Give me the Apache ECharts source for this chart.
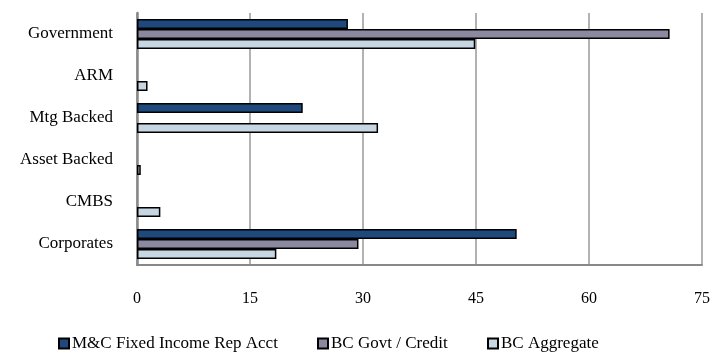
<!DOCTYPE html>
<html>
<head>
<meta charset="utf-8">
<script src="https://cdn.jsdelivr.net/npm/echarts@6/dist/echarts.min.js"></script>
<style>
html,body{margin:0;padding:0;background:#fff;}
#chart{width:713px;height:352px;}
</style>
</head>
<body>
<div id="chart"></div>
<script>
var categories = ['Government', 'ARM', 'Mtg Backed', 'Asset Backed', 'CMBS', 'Corporates'];
var seriesNames = ['M&C Fixed Income Rep Acct', 'BC Govt / Credit', 'BC Aggregate'];
var mcFixedIncome = [28, null, 22, null, null, 50.4];
var bcGovtCredit = [70.7, null, null, null, null, 29.4];
var bcAggregate = [44.9, 1.4, 32, 0.5, 3.1, 18.5];
var xTicks = [0, 15, 30, 45, 60, 75];

var colors = ['#1f497d', '#8b89a0', '#c6d6e2'];
var font = '"Liberation Serif", "Times New Roman", serif';
var values = [mcFixedIncome, bcGovtCredit, bcAggregate];

var chart = echarts.init(document.getElementById('chart'));
var legendLefts = [58, 317, 487];
var series = seriesNames.map(function (n, i) {
  return {
    name: n,
    type: 'bar',
    data: values[i],
    barWidth: 10,
    barGap: '0%',
    itemStyle: { color: colors[i], borderColor: '#000', borderWidth: 1.5 },
    emphasis: { disabled: true },
    animation: false
  };
});
chart.setOption({
  backgroundColor: '#fff',
  animation: false,
  grid: { left: 137, right: 11, top: 13, bottom: 87, containLabel: false },
  legend: seriesNames.map(function (n, i) {
    return {
      data: [n],
      left: legendLefts[i],
      top: 335,
      itemWidth: 10,
      itemHeight: 10,
      itemGap: 0,
      icon: 'rect',
      padding: 0,
      textStyle: { fontFamily: font, fontSize: 17, color: '#000', padding: [0, 0, 0, -2] },
      selectedMode: false
    };
  }),
  xAxis: {
    type: 'value',
    min: xTicks[0],
    max: xTicks[xTicks.length - 1],
    interval: xTicks[1] - xTicks[0],
    axisLine: { show: true, lineStyle: { color: '#888', width: 2 } },
    axisTick: { show: false },
    splitLine: { show: true, lineStyle: { color: '#999', width: 1.5 } },
    axisLabel: { fontFamily: font, fontSize: 16, color: '#000', margin: 26 }
  },
  yAxis: {
    type: 'category',
    data: categories,
    inverse: true,
    axisLine: { show: true, lineStyle: { color: '#888', width: 2.5 } },
    axisTick: { show: false },
    splitLine: { show: false },
    axisLabel: { fontFamily: font, fontSize: 17, color: '#000', margin: 24 }
  },
  series: series
});
</script>
</body>
</html>
